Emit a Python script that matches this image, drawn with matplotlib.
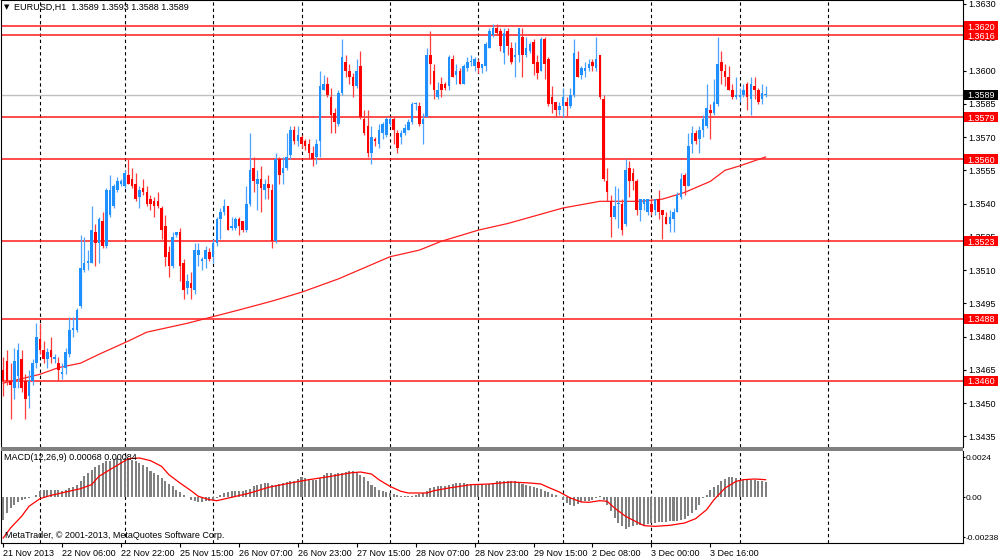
import matplotlib
matplotlib.use("Agg")
import matplotlib.pyplot as plt
import matplotlib.transforms as mtransforms
from matplotlib.patches import Rectangle
import numpy as np

# EURUSD H1 candles, bar 0 = 21 Nov 14:00, bar 207 = 4 Dec 07:00
opens = [
    1.3465, 1.3469, 1.3460, 1.3457, 1.3462, 1.3470, 1.3460, 1.3453, 1.3460, 1.3468,
    1.3479, 1.3474, 1.3470, 1.3474, 1.3470, 1.3468, 1.3463, 1.3466, 1.3472, 1.3483,
    1.3483, 1.3494, 1.3510, 1.3513, 1.3513, 1.3527, 1.3522, 1.3532, 1.3521, 1.3535,
    1.3539, 1.3546, 1.3549, 1.3548, 1.3553, 1.3551, 1.3549, 1.3543, 1.3547, 1.3545,
    1.3542, 1.3541, 1.3541, 1.3538, 1.3530, 1.3518, 1.3512, 1.3526, 1.3527, 1.3513,
    1.3502, 1.3504, 1.3501, 1.3517, 1.3514, 1.3515, 1.3518, 1.3516, 1.3522, 1.3533,
    1.3536, 1.3539, 1.3529, 1.3529, 1.3533, 1.3532, 1.3528, 1.3540, 1.3556, 1.3549,
    1.3551, 1.3546, 1.3549, 1.3546, 1.3523, 1.3560, 1.3554, 1.3556, 1.3562, 1.3573,
    1.3568, 1.3570, 1.3568, 1.3567, 1.3563, 1.3561, 1.3568, 1.3591, 1.3594, 1.3588,
    1.3581, 1.3576, 1.3590, 1.3604, 1.3600, 1.3597, 1.3593, 1.3602, 1.3578, 1.3575,
    1.3563, 1.3569, 1.3567, 1.3572, 1.3571, 1.3576, 1.3578, 1.3572, 1.3570, 1.3572,
    1.3573, 1.3577, 1.3585, 1.3584, 1.3576, 1.3579, 1.3607, 1.3600, 1.3588, 1.3594,
    1.3594, 1.3593, 1.3605, 1.3598, 1.3600, 1.3594, 1.3601, 1.3604, 1.3602, 1.3604,
    1.3601, 1.3602, 1.3610, 1.3616, 1.3619, 1.3618, 1.3608, 1.3618, 1.3610, 1.3606,
    1.3607, 1.3615, 1.3607, 1.3609, 1.3613, 1.3604, 1.3600, 1.3614, 1.3605, 1.3588,
    1.3586, 1.3582, 1.3584, 1.3586, 1.3584, 1.3589, 1.3605, 1.3598, 1.3600, 1.3601,
    1.3604, 1.3601, 1.3607, 1.3587, 1.3550, 1.3541, 1.3534, 1.3540, 1.3540, 1.3531,
    1.3556, 1.3554, 1.3550, 1.3537, 1.3540, 1.3536, 1.3540, 1.3537, 1.3542, 1.3537,
    1.3534, 1.3531, 1.3533, 1.3536, 1.3543, 1.3553, 1.3548, 1.3567, 1.3572, 1.3569,
    1.3573, 1.3575, 1.3582, 1.3581, 1.3585, 1.3604, 1.3600, 1.3597, 1.3591, 1.3588,
    1.3588, 1.3589, 1.3594, 1.3587, 1.3593, 1.3591, 1.3587, 1.3589,
]
highs = [
    1.3471, 1.3474, 1.3468, 1.3475, 1.3477, 1.3474, 1.3463, 1.3465, 1.3470, 1.3486,
    1.3486, 1.3478, 1.3475, 1.3480, 1.3472, 1.3471, 1.3468, 1.3475, 1.3489, 1.3489,
    1.3493, 1.3526, 1.3525, 1.3519, 1.3539, 1.3531, 1.3534, 1.3536, 1.3547, 1.3553,
    1.3549, 1.3552, 1.3551, 1.3555, 1.3560, 1.3556, 1.3554, 1.3548, 1.3551, 1.3548,
    1.3544, 1.3543, 1.3545, 1.3539, 1.3535, 1.3521, 1.3527, 1.3527, 1.3529, 1.3515,
    1.3508, 1.3509, 1.3522, 1.3522, 1.3516, 1.3521, 1.3520, 1.3524, 1.3534, 1.3538,
    1.3542, 1.3539, 1.3534, 1.3534, 1.3534, 1.3532, 1.3548, 1.3572, 1.3561, 1.3555,
    1.3557, 1.3551, 1.3553, 1.3549, 1.3563, 1.3561, 1.3561, 1.3572, 1.3575, 1.3575,
    1.3575, 1.3571, 1.3569, 1.3569, 1.3566, 1.3569, 1.3600, 1.3598, 1.3597, 1.3592,
    1.3583, 1.3591, 1.3614, 1.3607, 1.3603, 1.3599, 1.3605, 1.3609, 1.3582, 1.3582,
    1.3575, 1.3570, 1.3576, 1.3577, 1.3579, 1.3579, 1.3579, 1.3573, 1.3573, 1.3576,
    1.3578, 1.3586, 1.3586, 1.3586, 1.3581, 1.3610, 1.3618, 1.3603, 1.3595, 1.3597,
    1.3595, 1.3607, 1.3607, 1.3603, 1.3601, 1.3603, 1.3606, 1.3607, 1.3606, 1.3605,
    1.3603, 1.3613, 1.3619, 1.3621, 1.3621, 1.3619, 1.3619, 1.3619, 1.3613, 1.3613,
    1.3619, 1.3619, 1.3615, 1.3613, 1.3614, 1.3607, 1.3615, 1.3615, 1.3606, 1.3593,
    1.3586, 1.3586, 1.3592, 1.3588, 1.3592, 1.3614, 1.3609, 1.3602, 1.3604, 1.3605,
    1.3605, 1.3615, 1.3607, 1.3589, 1.3556, 1.3544, 1.3548, 1.3547, 1.3542, 1.3560,
    1.3559, 1.3556, 1.3551, 1.3542, 1.3542, 1.3542, 1.3542, 1.3542, 1.3546, 1.3537,
    1.3536, 1.3537, 1.3538, 1.3545, 1.3554, 1.3554, 1.3572, 1.3575, 1.3573, 1.3575,
    1.3580, 1.3594, 1.3585, 1.3596, 1.3615, 1.3609, 1.3603, 1.3602, 1.3594, 1.3597,
    1.3592, 1.3594, 1.3595, 1.3597, 1.3597, 1.3592, 1.3594, 1.3593,
]
lows = [
    1.3453, 1.3458, 1.3443, 1.3452, 1.3457, 1.3455, 1.3443, 1.3448, 1.3458, 1.3466,
    1.3472, 1.3468, 1.3466, 1.3468, 1.3468, 1.3460, 1.3461, 1.3463, 1.3471, 1.3480,
    1.3482, 1.3493, 1.3509, 1.3510, 1.3513, 1.3512, 1.3513, 1.3520, 1.3520, 1.3534,
    1.3538, 1.3545, 1.3548, 1.3547, 1.3549, 1.3547, 1.3541, 1.3538, 1.3544, 1.3539,
    1.3537, 1.3534, 1.3538, 1.3524, 1.3512, 1.3507, 1.3511, 1.3525, 1.3505, 1.3497,
    1.3499, 1.3497, 1.3499, 1.3512, 1.3510, 1.3511, 1.3514, 1.3513, 1.3521, 1.3524,
    1.3535, 1.3528, 1.3528, 1.3528, 1.3526, 1.3527, 1.3527, 1.3539, 1.3545, 1.3537,
    1.3536, 1.3542, 1.3542, 1.3520, 1.3522, 1.3549, 1.3549, 1.3555, 1.3560, 1.3567,
    1.3566, 1.3565, 1.3564, 1.3560, 1.3557, 1.3558, 1.3561, 1.3591, 1.3588, 1.3572,
    1.3572, 1.3575, 1.3589, 1.3597, 1.3594, 1.3588, 1.3592, 1.3578, 1.3571, 1.3561,
    1.3558, 1.3566, 1.3565, 1.3569, 1.3570, 1.3575, 1.3567, 1.3563, 1.3567, 1.3571,
    1.3573, 1.3576, 1.3582, 1.3575, 1.3567, 1.3579, 1.3594, 1.3587, 1.3587, 1.3588,
    1.3591, 1.3591, 1.3597, 1.3594, 1.3594, 1.3594, 1.3600, 1.3602, 1.3600, 1.3599,
    1.3599, 1.3600, 1.3610, 1.3615, 1.3616, 1.3609, 1.3603, 1.3607, 1.3603, 1.3597,
    1.3604, 1.3597, 1.3606, 1.3608, 1.3598, 1.3596, 1.3600, 1.3596, 1.3584, 1.3581,
    1.3579, 1.3580, 1.3579, 1.3579, 1.3583, 1.3588, 1.3597, 1.3596, 1.3597, 1.3600,
    1.3600, 1.3600, 1.3587, 1.3550, 1.3541, 1.3525, 1.3533, 1.3529, 1.3526, 1.3530,
    1.3543, 1.3546, 1.3535, 1.3532, 1.3537, 1.3535, 1.3535, 1.3535, 1.3533, 1.3524,
    1.3531, 1.3527, 1.3527, 1.3536, 1.3542, 1.3544, 1.3548, 1.3563, 1.3567, 1.3563,
    1.3570, 1.3574, 1.3569, 1.3580, 1.3584, 1.3594, 1.3593, 1.3591, 1.3587, 1.3587,
    1.3586, 1.3588, 1.3582, 1.3580, 1.3587, 1.3585, 1.3585, 1.3588,
]
closes = [
    1.3460, 1.3460, 1.3458, 1.3469, 1.3474, 1.3457, 1.3452, 1.3460, 1.3468, 1.3480,
    1.3474, 1.3470, 1.3473, 1.3471, 1.3471, 1.3465, 1.3464, 1.3473, 1.3483, 1.3484,
    1.3492, 1.3511, 1.3513, 1.3514, 1.3528, 1.3522, 1.3533, 1.3521, 1.3546, 1.3546,
    1.3548, 1.3550, 1.3550, 1.3554, 1.3549, 1.3548, 1.3542, 1.3546, 1.3545, 1.3540,
    1.3540, 1.3539, 1.3539, 1.3528, 1.3516, 1.3512, 1.3525, 1.3527, 1.3512, 1.3501,
    1.3505, 1.3502, 1.3519, 1.3519, 1.3515, 1.3519, 1.3515, 1.3522, 1.3533, 1.3536,
    1.3539, 1.3528, 1.3530, 1.3533, 1.3530, 1.3528, 1.3540, 1.3555, 1.3550, 1.3551,
    1.3547, 1.3549, 1.3547, 1.3523, 1.3560, 1.3553, 1.3556, 1.3561, 1.3573, 1.3568,
    1.3571, 1.3567, 1.3566, 1.3563, 1.3560, 1.3567, 1.3593, 1.3594, 1.3589, 1.3580,
    1.3577, 1.3590, 1.3606, 1.3600, 1.3597, 1.3593, 1.3600, 1.3579, 1.3572, 1.3563,
    1.3570, 1.3568, 1.3573, 1.3576, 1.3578, 1.3578, 1.3573, 1.3565, 1.3572, 1.3574,
    1.3577, 1.3585, 1.3585, 1.3576, 1.3578, 1.3607, 1.3603, 1.3591, 1.3591, 1.3591,
    1.3592, 1.3606, 1.3597, 1.3600, 1.3594, 1.3602, 1.3604, 1.3604, 1.3605, 1.3601,
    1.3603, 1.3612, 1.3618, 1.3619, 1.3617, 1.3611, 1.3617, 1.3611, 1.3604, 1.3607,
    1.3619, 1.3607, 1.3610, 1.3612, 1.3603, 1.3599, 1.3614, 1.3603, 1.3585, 1.3585,
    1.3582, 1.3584, 1.3588, 1.3584, 1.3589, 1.3608, 1.3597, 1.3601, 1.3601, 1.3603,
    1.3602, 1.3605, 1.3588, 1.3551, 1.3545, 1.3534, 1.3539, 1.3540, 1.3528, 1.3555,
    1.3550, 1.3550, 1.3537, 1.3542, 1.3542, 1.3542, 1.3536, 1.3542, 1.3536, 1.3535,
    1.3531, 1.3534, 1.3536, 1.3544, 1.3551, 1.3548, 1.3566, 1.3572, 1.3568, 1.3573,
    1.3578, 1.3583, 1.3581, 1.3586, 1.3603, 1.3600, 1.3597, 1.3591, 1.3588, 1.3589,
    1.3589, 1.3591, 1.3588, 1.3594, 1.3591, 1.3586, 1.3590, 1.3589,
]

# moving average line, read at a few bars
ma_bars = [0, 5, 10, 15, 21, 26, 30, 34, 39, 50, 57, 64, 73, 81, 91, 98, 105,
           113, 119, 129, 137, 152, 162, 173, 179, 185, 192, 196, 200, 207]
ma_values = [1.3459, 1.3461, 1.3463, 1.3466, 1.3468, 1.3472, 1.3475, 1.3478,
             1.3482, 1.3486, 1.3489, 1.3492, 1.3496, 1.3500, 1.3506, 1.3511,
             1.3516, 1.3519, 1.3523, 1.3528, 1.3531, 1.3538, 1.3541, 1.3541,
             1.3542, 1.3545, 1.3550, 1.3555, 1.3557, 1.3561]

macd_hist = [
    -0.00134, -0.00094, -0.00064, -0.00044, -0.00028, -0.00016, -0.00008, -0.00004, 0.00001, 0.00016,
    0.00036, 0.00042, 0.00042, 0.00044, 0.00042, 0.00042, 0.00040, 0.00046, 0.00056, 0.00060,
    0.00076, 0.00100, 0.00126, 0.00146, 0.00166, 0.00180, 0.00196, 0.00206, 0.00216, 0.00220,
    0.00230, 0.00236, 0.00232, 0.00236, 0.00230, 0.00226, 0.00220, 0.00206, 0.00196, 0.00180,
    0.00160, 0.00146, 0.00132, 0.00116, 0.00096, 0.00080, 0.00066, 0.00046, 0.00032, 0.00016,
    0.00001, -0.00014, -0.00024, -0.00028, -0.00028, -0.00024, -0.00020, -0.00014, -0.00004, 0.00016,
    0.00026, 0.00032, 0.00036, 0.00036, 0.00040, 0.00036, 0.00044, 0.00052, 0.00066, 0.00076,
    0.00080, 0.00084, 0.00086, 0.00076, 0.00072, 0.00080, 0.00086, 0.00090, 0.00096, 0.00100,
    0.00112, 0.00120, 0.00116, 0.00112, 0.00106, 0.00106, 0.00116, 0.00136, 0.00146, 0.00146,
    0.00140, 0.00146, 0.00146, 0.00152, 0.00156, 0.00156, 0.00146, 0.00132, 0.00120, 0.00096,
    0.00076, 0.00060, 0.00046, 0.00036, 0.00032, 0.00026, 0.00020, 0.00016, 0.00010, 0.00006,
    0.00006, 0.00010, 0.00016, 0.00020, 0.00026, 0.00036, 0.00056, 0.00062, 0.00066, 0.00066,
    0.00066, 0.00072, 0.00080, 0.00086, 0.00086, 0.00086, 0.00082, 0.00080, 0.00080, 0.00080,
    0.00080, 0.00076, 0.00080, 0.00086, 0.00096, 0.00100, 0.00100, 0.00096, 0.00096, 0.00096,
    0.00090, 0.00080, 0.00076, 0.00066, 0.00062, 0.00056, 0.00052, 0.00040, 0.00032, 0.00020,
    0.00012, 0.00001, -0.00014, -0.00034, -0.00044, -0.00054, -0.00040, -0.00028, -0.00024, -0.00020,
    -0.00014, -0.00004, 0.00006, -0.00014, -0.00044, -0.00084, -0.00124, -0.00154, -0.00174, -0.00188,
    -0.00180, -0.00174, -0.00168, -0.00164, -0.00164, -0.00160, -0.00156, -0.00154, -0.00148, -0.00148,
    -0.00148, -0.00144, -0.00144, -0.00140, -0.00134, -0.00128, -0.00114, -0.00094, -0.00074, -0.00044,
    -0.00004, 0.00016, 0.00046, 0.00060, 0.00076, 0.00100, 0.00112, 0.00120, 0.00120, 0.00116,
    0.00106, 0.00106, 0.00106, 0.00106, 0.00106, 0.00100, 0.00096, 0.00090,
]
signal_bars = [0, 2, 5, 7, 10, 13, 17, 21, 24, 26, 29, 32, 34, 37, 40, 43, 45, 48,
               51, 53, 56, 58, 62, 67, 72, 78, 83, 89, 94, 97, 100, 102, 105, 108,
               110, 115, 117, 121, 127, 132, 138, 143, 146, 148, 151, 154, 157, 159,
               162, 164, 166, 169, 172, 174, 177, 181, 185, 188, 191, 193, 196, 199,
               201, 204, 207]
signal_values = [-0.00244, -0.00184, -0.00114, -0.00054, -0.00008, 0.00012, 0.00032,
                 0.00052, 0.00076, 0.00126, 0.00166, 0.00206, 0.00232, 0.00236,
                 0.00220, 0.00186, 0.00136, 0.00086, 0.00040, 0.00006, -0.00014,
                 -0.00020, 0.00000, 0.00026, 0.00060, 0.00086, 0.00106, 0.00126,
                 0.00146, 0.00152, 0.00140, 0.00106, 0.00066, 0.00036, 0.00026,
                 0.00026, 0.00040, 0.00056, 0.00076, 0.00080, 0.00092, 0.00086,
                 0.00080, 0.00060, 0.00032, -0.00004, -0.00028, -0.00030, -0.00020,
                 -0.00024, -0.00064, -0.00114, -0.00148, -0.00170, -0.00174, -0.00168,
                 -0.00154, -0.00128, -0.00074, -0.00014, 0.00056, 0.00096, 0.00106,
                 0.00110, 0.00106]

level_prices = [1.3620, 1.3616, 1.3579, 1.3560, 1.3523, 1.3488, 1.3460]
bid_price = 1.3589
price_ticks = [1.3435, 1.3450, 1.3465, 1.3480, 1.3495, 1.3510, 1.3525,
               1.3540, 1.3555, 1.3570, 1.3585, 1.3600, 1.3615, 1.3630]
macd_ticks = [0.0024, 0.0, -0.00238]
macd_tick_labels = ["0.0024", "0.00", "-0.00238"]
day_start_bars = [10, 33, 57, 81, 105, 129, 152, 176, 200, 224]
time_label_bars = [0, 16, 32, 48, 64, 80, 96, 112, 128, 144, 160, 176, 192]
time_labels = ["21 Nov 2013", "22 Nov 06:00", "22 Nov 22:00", "25 Nov 15:00",
               "26 Nov 07:00", "26 Nov 23:00", "27 Nov 15:00", "28 Nov 07:00",
               "28 Nov 23:00", "29 Nov 15:00", "2 Dec 08:00", "3 Dec 00:00",
               "3 Dec 16:00"]

FIG_W, FIG_H = 1000, 560
BULL = "#1e90ff"
BEAR = "#ff0000"
BULL_WICK = "#4aa4ff"
BEAR_WICK = "#ff3c3c"

plt.rcParams["font.family"] = ["Liberation Sans", "DejaVu Sans"]
plt.rcParams["font.size"] = 6.5


def px_rect(left, top, right, bottom):
    return [left / FIG_W, (FIG_H - bottom) / FIG_H,
            (right - left) / FIG_W, (bottom - top) / FIG_H]


def price_box(ax, value, text, face):
    trans = mtransforms.blended_transform_factory(ax.transAxes, ax.transData)
    y0, y1 = ax.get_ylim()
    pos = ax.get_position()
    half = (y1 - y0) / (pos.height * FIG_H) * 5.0
    box_x = 1 + 1.0 / (pos.width * FIG_W)
    box_w = 34.0 / (pos.width * FIG_W)
    ax.add_patch(Rectangle((box_x, value - half), box_w, 2 * half,
                           transform=trans, facecolor=face, edgecolor="none",
                           clip_on=False, zorder=10))
    ax.text(box_x + box_w / 2, value, text, transform=trans, ha="center",
            va="center_baseline", color="white", fontsize=6.5,
            clip_on=False, zorder=11)


fig = plt.figure(figsize=(FIG_W / 100, FIG_H / 100), dpi=100)
fig.patch.set_facecolor("white")

ax = fig.add_axes(px_rect(1, 0, 963, 447))
ax2 = fig.add_axes(px_rect(1, 451, 963, 543), sharex=ax)

x = np.arange(len(opens))
o = np.array(opens)
h = np.array(highs)
l = np.array(lows)
c = np.array(closes)
up = c >= o

for axis in (ax, ax2):
    for b in day_start_bars:
        axis.axvline(b, color="black", lw=0.8, dashes=(3, 2.6), zorder=1)

for p in level_prices:
    ax.axhline(p, color="#ff1a1a", lw=1.1, zorder=2)
ax.axhline(bid_price, color="#c0c0c0", lw=1.0, zorder=2)

ax.plot(ma_bars, ma_values, color="#ff2020", lw=0.9, zorder=3)

ax.vlines(x[up], l[up], h[up], color=BULL_WICK, lw=0.9, zorder=4)
ax.vlines(x[~up], l[~up], h[~up], color=BEAR_WICK, lw=0.9, zorder=4)
body_low = np.minimum(o, c)
body_h = np.maximum(np.abs(c - o), 0.00002)
ax.bar(x[up], body_h[up], bottom=body_low[up], width=0.7, color=BULL,
       linewidth=0, zorder=5)
ax.bar(x[~up], body_h[~up], bottom=body_low[~up], width=0.7, color=BEAR,
       linewidth=0, zorder=5)

ax.set_xlim(-0.59, 260.6)
ax.set_ylim(1.34302, 1.36318)
ax.yaxis.tick_right()
ax.set_yticks(price_ticks)
ax.set_yticklabels([f"{p:.4f}" for p in price_ticks])
ax.tick_params(axis="y", direction="out", length=2.5, width=0.8, pad=1.5,
               labelsize=6.5, colors="black")
ax.tick_params(axis="x", bottom=False, labelbottom=False)
ax.spines["bottom"].set_visible(False)
for s in ("left", "right", "top"):
    ax.spines[s].set_linewidth(0.8)
    ax.spines[s].set_color("black")

for p in level_prices:
    price_box(ax, p, f"{p:.4f}", "#ff0000")
price_box(ax, bid_price, f"{bid_price:.4f}", "#000000")

# MACD window
ax2.bar(x, macd_hist, width=0.55, color="#808080", linewidth=0, zorder=3)
ax2.plot(signal_bars, signal_values, color="#ff0000", lw=0.9, zorder=4)
ax2.set_ylim(-0.00274, 0.00278)
ax2.yaxis.tick_right()
ax2.set_yticks(macd_ticks)
ax2.set_yticklabels(macd_tick_labels)
ax2.tick_params(axis="y", direction="out", length=1.5, width=0.8, pad=0.5,
                labelsize=6.0)
ax2.set_xticks(time_label_bars)
ax2.set_xticklabels(time_labels, ha="left")
ax2.tick_params(axis="x", direction="out", length=3, width=0.8, pad=1,
                labelsize=6.5)
ax2.spines["top"].set_visible(False)
for s in ("left", "right", "bottom"):
    ax2.spines[s].set_linewidth(0.8)
    ax2.spines[s].set_color("black")

# grey splitter between the two windows
fig.add_artist(Rectangle((1 / FIG_W, (FIG_H - 451) / FIG_H), 962 / FIG_W,
                         4 / FIG_H, transform=fig.transFigure,
                         facecolor="#808080", edgecolor="none"))

fig.text(4 / FIG_W, 1 - 7 / FIG_H, "\u25bc", fontsize=5, va="center",
         family=["DejaVu Sans"])
fig.text(14 / FIG_W, 1 - 7 / FIG_H, "EURUSD,H1  1.3589 1.3593 1.3588 1.3589",
         fontsize=6.5, va="center")
fig.text(4 / FIG_W, 1 - 457 / FIG_H, "MACD(12,26,9) 0.00068 0.00084",
         fontsize=6.5, va="center", zorder=10)
fig.text(5 / FIG_W, 1 - 535 / FIG_H,
         "MetaTrader, \u00a9 2001-2013, MetaQuotes Software Corp.",
         fontsize=6.5, va="center", zorder=10)

fig.savefig("out.png", dpi=100, facecolor="white")
